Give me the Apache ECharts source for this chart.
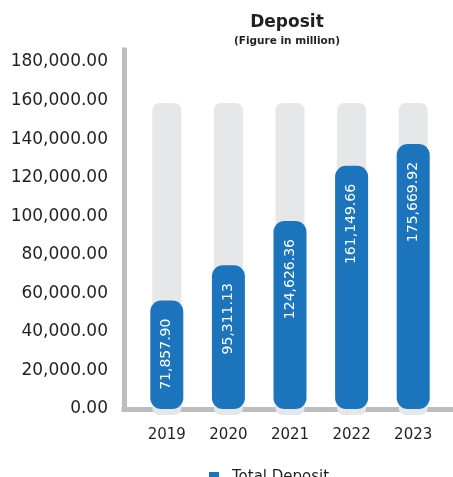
<!DOCTYPE html>
<html>
<head>
<meta charset="utf-8">
<style>
  html, body { margin: 0; padding: 0; background: #ffffff; }
  #chart { width: 453px; height: 477px; }
</style>
<script src="https://cdn.jsdelivr.net/npm/echarts@6/dist/echarts.min.js"></script>
</head>
<body>
<div id="chart"></div>
<script>
// Yearly figures (in million)
const years = ['2019', '2020', '2021', '2022', '2023'];
const totalDeposit = [71857.90, 95311.13, 124626.36, 161149.66, 175669.92];

// Left axis scale
const axisMin = 0;
const axisMax = 180000;
const axisStep = 20000;

// Scale the bars are drawn on
const barScaleMax = 230000;

const FONT = 'DejaVu Sans';
const TEXT = '#231f20';
const BLUE = '#1c75bc';
const TRACK = '#e6e7e8';
const LINE = '#bcbdc0';

const fmt = v => Number(v).toLocaleString('en-US', { minimumFractionDigits: 2, maximumFractionDigits: 2 });

const chart = echarts.init(document.getElementById('chart'), null, { renderer: 'canvas' });

chart.setOption({
  animation: false,
  backgroundColor: '#ffffff',
  title: {
    text: 'Deposit',
    subtext: '(Figure in million)',
    left: 282,
    top: 9,
    textAlign: 'center',
    itemGap: 5,
    textStyle: { fontFamily: FONT, fontSize: 17, fontWeight: 'bold', color: TEXT },
    subtextStyle: { fontFamily: FONT, fontSize: 10.5, fontWeight: 'bold', color: TEXT }
  },
  legend: {
    data: ['Total Deposit'],
    left: 204,
    top: 464,
    icon: 'rect',
    itemWidth: 10,
    itemHeight: 10,
    textStyle: { fontFamily: FONT, fontSize: 15, color: TEXT, padding: [0, 0, 0, 8], lineHeight: 16 }
  },
  grid: [
    // bars + tick labels
    { left: 136, right: 9, top: 62, bottom: 68 },
    // background tracks
    { left: 136, right: 9, top: 103, bottom: 62 },
    // axis frame lines
    { left: 124, right: 0, top: 50, bottom: 68 }
  ],
  xAxis: [
    {
      type: 'category', gridIndex: 0, data: years,
      axisLine: { show: false }, axisTick: { show: false },
      axisLabel: { fontFamily: FONT, fontSize: 15, color: TEXT, margin: 19 }
    },
    {
      type: 'category', gridIndex: 1, data: years, show: false
    },
    {
      type: 'value', gridIndex: 2, min: 0, max: 1,
      axisLine: { show: true, onZero: false, lineStyle: { color: LINE, width: 5, cap: 'square' } },
      axisTick: { show: false }, axisLabel: { show: false }, splitLine: { show: false }
    }
  ],
  yAxis: [
    {
      type: 'value', gridIndex: 0, min: axisMin, max: axisMax, interval: axisStep,
      offset: 12,
      axisLine: { show: false }, axisTick: { show: false }, splitLine: { show: false },
      axisLabel: { fontFamily: FONT, fontSize: 17, color: TEXT, margin: 16, formatter: v => fmt(v) }
    },
    {
      type: 'value', gridIndex: 0, min: 0, max: barScaleMax, show: false
    },
    {
      type: 'value', gridIndex: 1, min: 0, max: barScaleMax, show: false
    },
    {
      type: 'value', gridIndex: 2, min: 0, max: 1,
      axisLine: { show: true, onZero: false, lineStyle: { color: LINE, width: 5, cap: 'square' } },
      axisTick: { show: false }, axisLabel: { show: false }, splitLine: { show: false }
    }
  ],
  series: [
    {
      name: 'track',
      type: 'bar',
      xAxisIndex: 1,
      yAxisIndex: 2,
      data: totalDeposit,
      barWidth: 29,
      silent: true,
      z: 1,
      itemStyle: { color: 'rgba(0,0,0,0)' },
      showBackground: true,
      backgroundStyle: { color: TRACK, borderRadius: 7 }
    },
    {
      name: 'Total Deposit',
      type: 'bar',
      xAxisIndex: 0,
      yAxisIndex: 1,
      data: totalDeposit,
      barWidth: 33,
      z: 2,
      itemStyle: { color: BLUE, borderRadius: 11 },
      label: {
        show: true,
        position: 'insideTop',
        distance: 18,
        rotate: 90,
        align: 'right',
        verticalAlign: 'middle',
        fontFamily: FONT,
        fontSize: 14,
        color: '#ffffff',
        formatter: p => fmt(p.value)
      }
    }
  ]
});
</script>
</body>
</html>
